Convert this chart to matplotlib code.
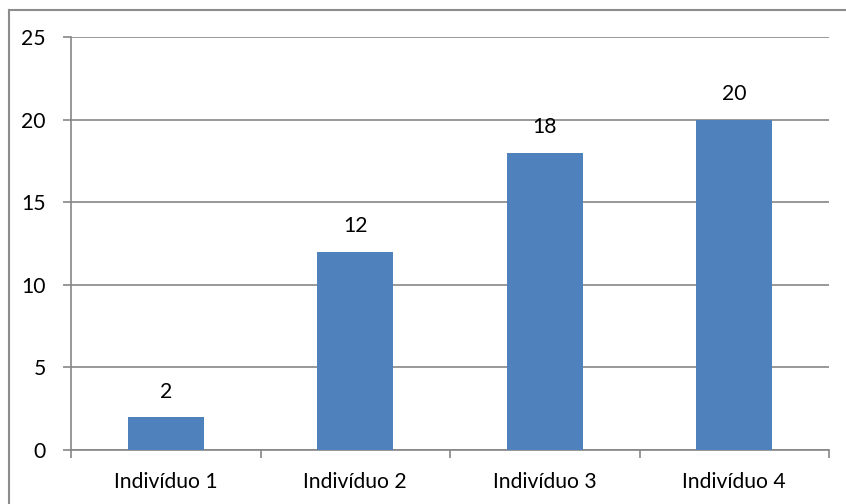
import matplotlib
matplotlib.use("Agg")
import matplotlib.pyplot as plt
from matplotlib.lines import Line2D

categories = ["Indivíduo 1", "Indivíduo 2", "Indivíduo 3", "Indivíduo 4"]
values = [2, 12, 18, 20]
y_ticks = [0, 5, 10, 15, 20, 25]

W, H, DPI = 846, 504, 100
plt.rcParams["font.family"] = ["Lato", "DejaVu Sans"]
FS = 15.2

fig = plt.figure(figsize=(W / DPI, H / DPI), dpi=DPI)
fig.patch.set_facecolor("white")

# plot area in pixels
left, right, top, bottom = 71, 829, 37, 450
ax = fig.add_axes([left / W, 1 - bottom / H, (right - left) / W, (bottom - top) / H])

grid_col = "#868686"
bar_col = "#4F81BD"

x = list(range(len(categories)))
ax.bar(x, values, width=0.4, color=bar_col, zorder=3)
for xi, v in zip(x, values):
    ax.annotate(str(v), (xi, v), xytext=(0, 11), textcoords="offset points",
                ha="center", va="bottom", fontsize=FS, color="black")

ax.set_xlim(-0.5, len(categories) - 0.5)
ax.set_ylim(0, 25)
ax.set_yticks(y_ticks)
ax.set_yticklabels([str(t) for t in y_ticks])
ax.yaxis.grid(True, color=grid_col, linewidth=1.2, zorder=0)

ax.set_xticks(x)
ax.set_xticklabels(categories)
ax.set_xticks([i - 0.5 for i in range(len(categories) + 1)], minor=True)
ax.tick_params(axis="x", which="major", length=0, pad=16, labelsize=FS)
ax.tick_params(axis="x", which="minor", length=6, width=1.2, color=grid_col, direction="out")
ax.tick_params(axis="y", length=6, width=1.2, color=grid_col, pad=12, labelsize=FS)

for s in ["top", "right"]:
    ax.spines[s].set_visible(False)
for s in ["left", "bottom"]:
    ax.spines[s].set_color(grid_col)
    ax.spines[s].set_linewidth(1.2)

# chart frame (top and left edges)
bx, by = 8.5 / W, 1 - 10 / H
fig.add_artist(Line2D([bx, 1], [by, by], transform=fig.transFigure, color="#8C8C8C", linewidth=1.5))
fig.add_artist(Line2D([bx, bx], [0, by], transform=fig.transFigure, color="#8C8C8C", linewidth=1.5))

fig.savefig("out.png", dpi=DPI, facecolor="white")
